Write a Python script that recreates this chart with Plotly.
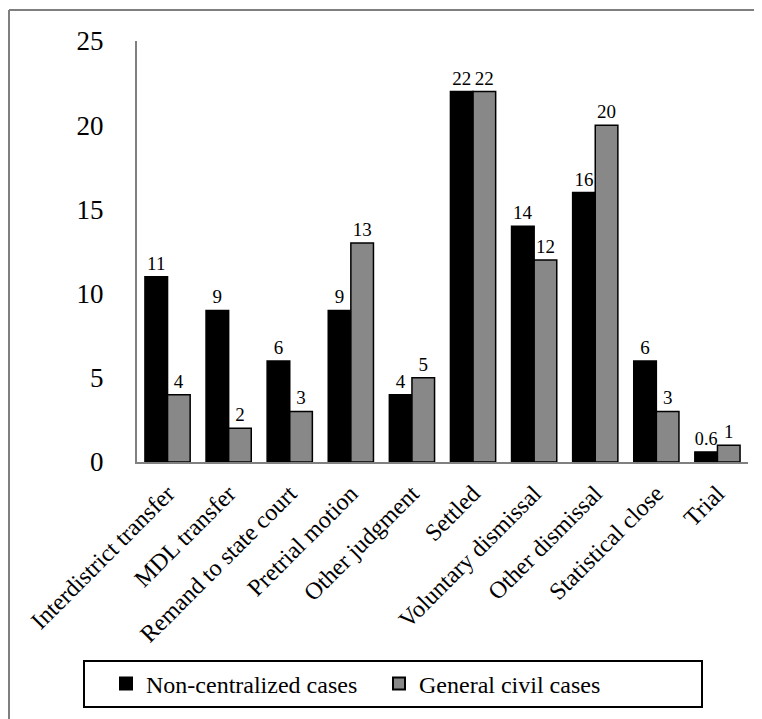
import plotly.graph_objects as go

categories = ["Interdistrict transfer", "MDL transfer", "Remand to state court",
              "Pretrial motion", "Other judgment", "Settled", "Voluntary dismissal",
              "Other dismissal", "Statistical close", "Trial"]
non_centralized = [11, 9, 6, 9, 4, 22, 14, 16, 6, 0.6]
general_civil = [4, 2, 3, 13, 5, 22, 12, 20, 3, 1]
y_ticks = [0, 5, 10, 15, 20, 25]

FONT = "Liberation Serif"

W, H = 754, 711
OFF = 8  # page offset of the figure in the screenshot
# target screen geometry of the plot area
SX0, SX1, SY0, SY1 = 137, 748, 41, 462
L = SX0 - OFF
R = W - (SX1 - OFF)
T = SY0 - OFF
B = H - (SY1 - OFF)
pw, ph = W - L - R, H - T - B


def px_x(p):
    return (p - OFF - L) / pw


def px_y(p):
    return (H - B - (p - OFF)) / ph


fig = go.Figure()
fig.add_trace(go.Bar(
    x=categories, y=non_centralized, name="Non-centralized cases",
    marker=dict(color="#000000", line=dict(color="#000000", width=1.5)),
    text=[str(v) for v in non_centralized], textposition="outside",
    textfont=dict(family=FONT, size=19, color="#000000"), cliponaxis=False,
))
fig.add_trace(go.Bar(
    x=categories, y=general_civil, name="General civil cases",
    marker=dict(color="#888888", line=dict(color="#000000", width=1.5)),
    text=[str(v) for v in general_civil], textposition="outside",
    textfont=dict(family=FONT, size=19, color="#000000"), cliponaxis=False,
))

fig.update_layout(
    width=W, height=H,
    margin=dict(l=L, r=R, t=T, b=B, autoexpand=False),
    paper_bgcolor="white", plot_bgcolor="white",
    barmode="group", bargap=0.26, bargroupgap=0,
    font=dict(family=FONT, color="#000000"),
    showlegend=True,
    legend=dict(orientation="h", x=px_x(106), xanchor="left",
                y=px_y(684), yanchor="middle",
                font=dict(family=FONT, size=24, color="#000000"),
                entrywidth=228, bgcolor="rgba(0,0,0,0)", borderwidth=0,
                itemsizing="constant"),
    xaxis=dict(showline=True, linecolor="#808080", linewidth=2,
               tickangle=-45, ticks="", ticklabelstandoff=6,
               tickfont=dict(family=FONT, size=24, color="#000000"),
               showgrid=False),
    yaxis=dict(range=[0, 25], tickvals=y_ticks, showline=True,
               linecolor="#808080", linewidth=2, ticks="",
               ticklabelstandoff=26, showgrid=False, zeroline=False,
               tickfont=dict(family=FONT, size=27, color="#000000")),
    shapes=[
        dict(type="line", xref="paper", yref="paper",
             x0=px_x(9), x1=px_x(1200), y0=px_y(10), y1=px_y(10),
             line=dict(color="#7f7f7f", width=2)),
        dict(type="line", xref="paper", yref="paper",
             x0=px_x(9), x1=px_x(9), y0=px_y(10), y1=px_y(1200),
             line=dict(color="#7f7f7f", width=2)),
        dict(type="rect", xref="paper", yref="paper",
             x0=px_x(84), x1=px_x(702), y0=px_y(707), y1=px_y(661),
             line=dict(color="#000000", width=2), fillcolor="rgba(0,0,0,0)"),
    ],
)

fig.write_html("out.html")
